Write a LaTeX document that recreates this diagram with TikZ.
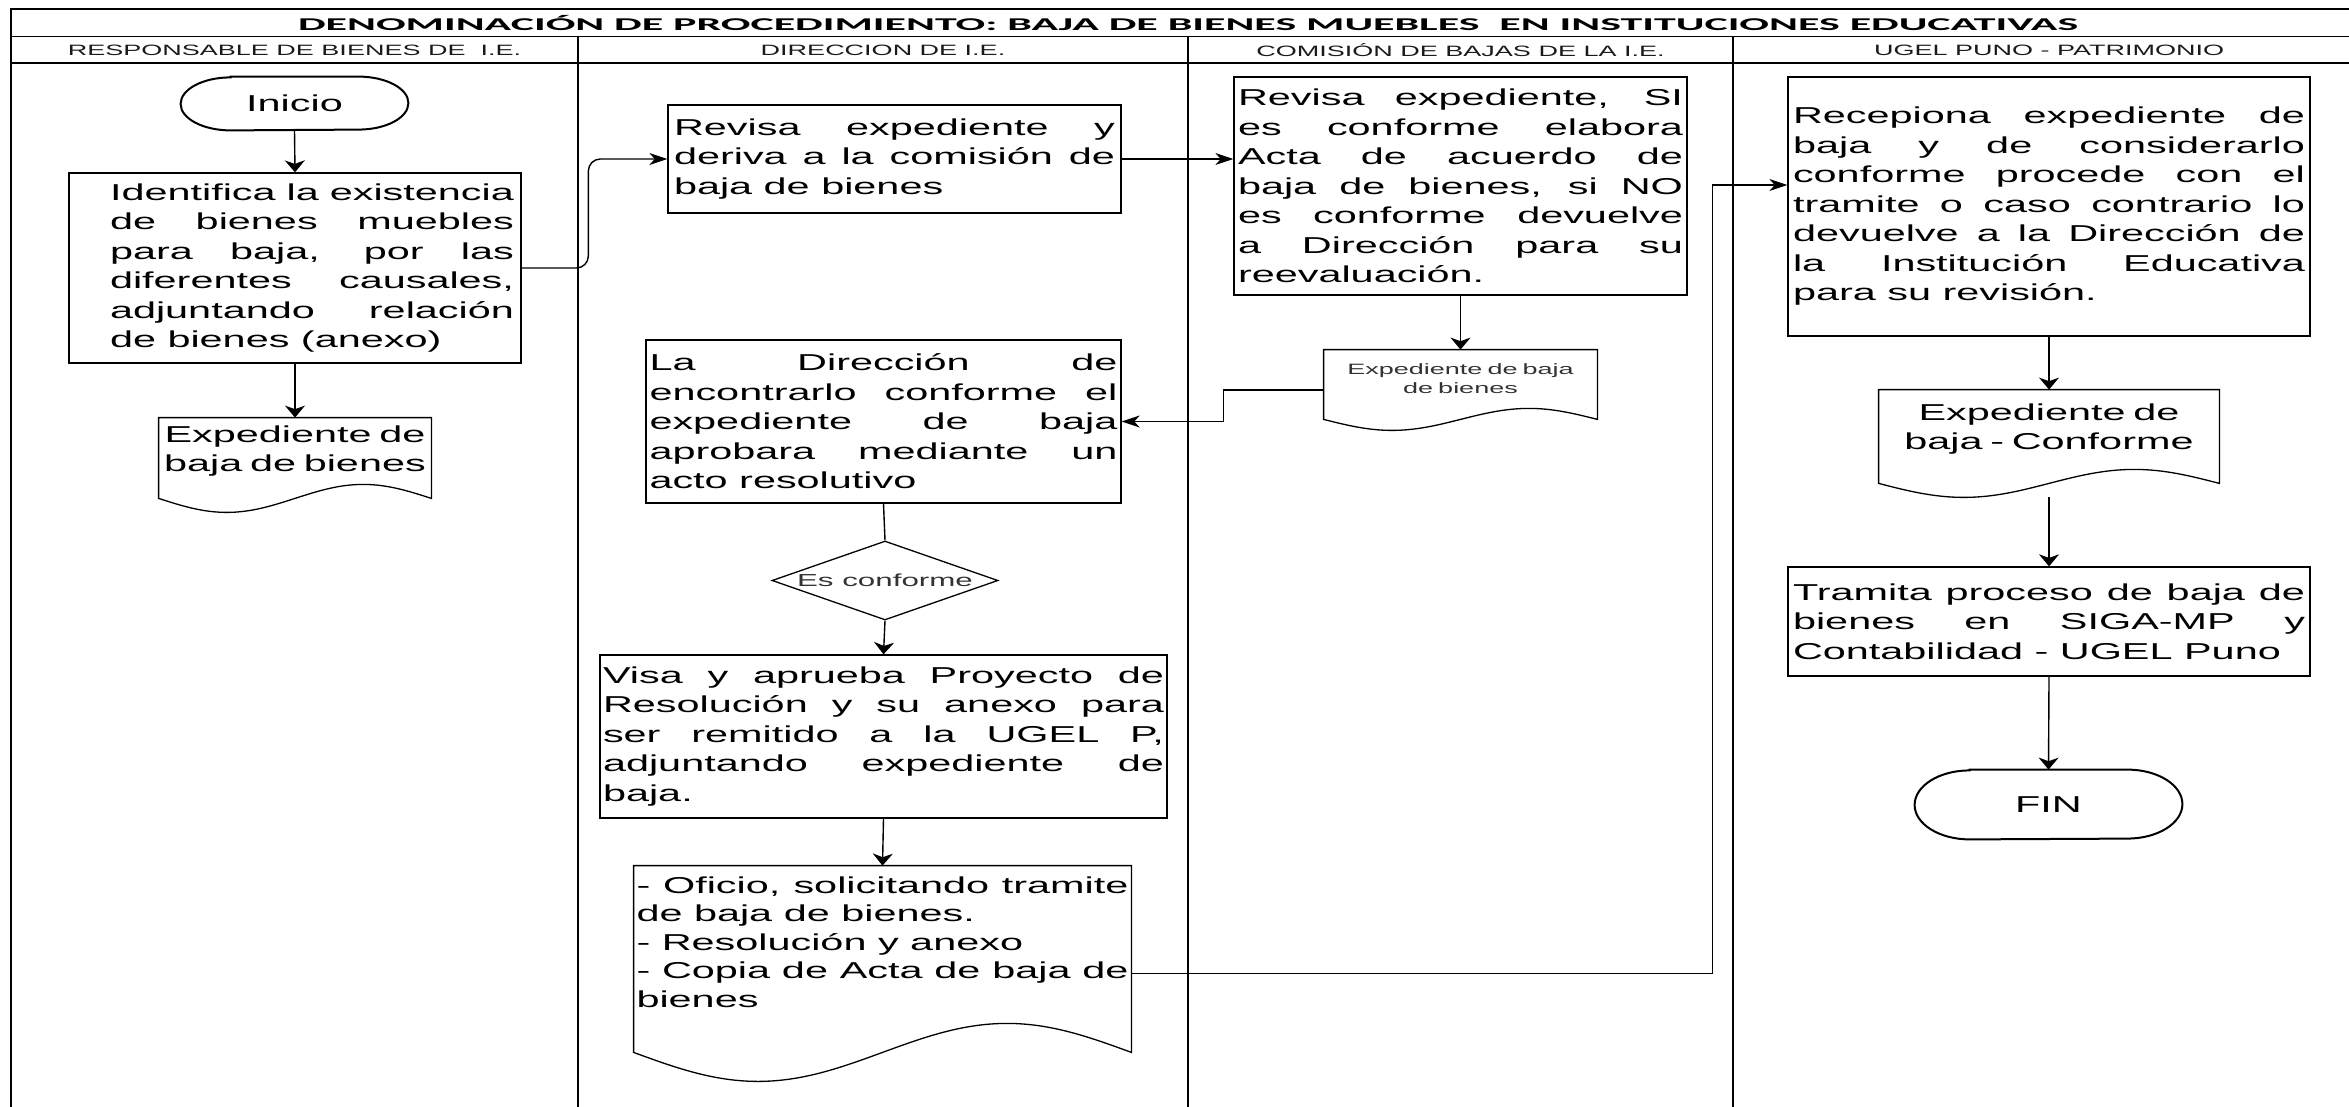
\documentclass[tikz,border=0pt]{standalone}
\usepackage{fontspec}
\setmainfont{Liberation Sans}[FakeStretch=1.8]
\newfontfamily\titlefont{Carlito}
\usepackage{graphicx}
\usetikzlibrary{calc,shapes.geometric,arrows.meta}
\definecolor{inkgray}{HTML}{333333}
\definecolor{headink}{HTML}{1A1A1A}
\def\wavedoc(#1:#2){\draw[line width=0.65pt] (#1.north west) -- (#1.north east) -- ($(#1.south east)+(0,-#2)$) sin ($(#1.south west)!0.75!(#1.south east)+(0,-2*#2)$) cos ($(#1.south west)!0.5!(#1.south east)+(0,-#2)$) sin ($(#1.south west)!0.25!(#1.south east)$) cos ($(#1.south west)+(0,-#2)$) -- cycle;}
\def\stadium(#1:#2:#3){\draw[line width=1pt] ($(#1.north west)+(#2,0)$) -- ($(#1.north east)+(-#2,0)$) arc[start angle=90,end angle=-90,x radius={#2*0.5pt},y radius={#3*0.5pt}] -- ($(#1.south west)+(#2,0)$) arc[start angle=270,end angle=90,x radius={#2*0.5pt},y radius={#3*0.5pt}] -- cycle;}

\begin{document}
\begin{tikzpicture}[x=0.5pt,y=-0.5pt,
	box/.style={draw, line width=0.65pt, inner ysep=0pt, align=justify, font=\fontsize{11.5}{14.75}\selectfont},
	doc/.style={inner sep=0pt, align=center, font=\fontsize{11.5}{14.2}\selectfont},
	docpad/.style={execute at end node={\endgraf\vskip#1\relax\nointerlineskip\null}},
	terminal/.style={inner sep=0pt, font=\fontsize{11.5}{14}\selectfont},
	decision/.style={diamond, draw, line width=0.65pt, shape aspect=2.86, inner sep=0pt, minimum width=113pt, minimum height=39.5pt, text=inkgray, font=\fontsize{8.7}{10}\selectfont},
	lanehead/.style={text=headink, font=\fontsize{7.5}{9}\selectfont},
	frame/.style={line width=0.8pt},
	link/.style={line width=0.7pt},
	darrow/.style={link, -{Stealth[length=6pt,width=10pt,inset=1.8pt]}},
	rarrow/.style={link, -{Stealth[length=9pt,width=6pt,inset=2.7pt]}}]
			%%%%% START %%%%%
			
			\fill[white] (0,0) rectangle (2349,1107);
			\useasboundingbox (0,0) rectangle (2349,1107);
			
			\draw[frame] (2349,9.3) -- (11,9.3) -- (11,1107);
			\draw[frame] (11,36.7) -- (2349,36.7);
			\draw[frame] (11,63.3) -- (2349,63.3);
			\foreach \lx in {578,1188,1733}
				\draw[frame] (\lx,36.7) -- (\lx,1107);
			
			\node[font=\titlefont\bfseries\fontsize{9}{11}\selectfont] (titulo) at (1188,23) {\resizebox{890pt}{\height}{DENOMINACIÓN DE PROCEDIMIENTO: BAJA DE BIENES MUEBLES\ \ EN INSTITUCIONES EDUCATIVAS}};
			\node[lanehead] (hresp) at (294.5,50) {RESPONSABLE DE BIENES DE\ \ I.E.};
			\node[lanehead] (hdir) at (883,50) {DIRECCION DE I.E.};
			\node[lanehead] (hcom) at (1460.5,50) {COMISIÓN DE BAJAS DE LA I.E.};
			\node[lanehead] (hugel) at (2049,50) {UGEL PUNO - PATRIMONIO};
			
			% responsable
			\node[terminal, minimum width=113.5pt, minimum height=26.5pt] (inicio) at (294.5,103.5) {Inicio};
			\stadium(inicio:50:26.5)
			\node[box, minimum width=226pt, minimum height=95pt, text width=219pt, inner xsep=3.5pt] (identifica) at (295,268) {\leftskip=17pt Identifica la existencia\linebreak de bienes muebles\linebreak para baja, por las\linebreak diferentes causales,\linebreak adjuntando relación\linebreak de bienes (anexo)\par};
			\node[doc, minimum width=136pt, minimum height=47pt, text width=136pt, docpad=14pt] (expresp) at (295,465) {Expediente de\\baja de bienes};
			\wavedoc(expresp:14)
			
			% direccion
			\node[box, minimum width=226.5pt, minimum height=54pt, text width=220.5pt, inner xsep=3pt] (revisa) at (894.5,159) {Revisa expediente y\linebreak deriva a la comisión de\linebreak baja de bienes};
			\node[box, minimum width=237.5pt, minimum height=81.5pt, text width=234pt, inner xsep=1.75pt] (direccion) at (883.5,421.5) {La Dirección de\linebreak encontrarlo conforme el\linebreak expediente de baja\linebreak aprobara mediante un\linebreak acto resolutivo};
			\node[decision] (conforme) at (885,580.5) {Es conforme};
			\node[box, minimum width=283.5pt, minimum height=81.5pt, text width=280.5pt, inner xsep=1.5pt] (visa) at (883.5,736.5) {Visa y aprueba Proyecto de\linebreak Resolución y su anexo para\linebreak ser remitido a la UGEL P,\linebreak adjuntando expediente de\linebreak baja.};
			\node[doc, align=justify, minimum width=248.5pt, minimum height=107.5pt, text width=246pt, docpad=31.5pt] (oficio) at (882.5,973.5) {- Oficio, solicitando tramite\linebreak de baja de bienes.\par - Resolución y anexo\par - Copia de Acta de baja de\linebreak bienes};
			\wavedoc(oficio:29)
			
			% comision
			\node[box, minimum width=226.5pt, minimum height=109pt, text width=222.5pt, inner xsep=2pt] (comision) at (1460.5,186) {Revisa expediente, SI\linebreak es conforme elabora\linebreak Acta de acuerdo de\linebreak baja de bienes, si NO\linebreak es conforme devuelve\linebreak a Dirección para su\linebreak reevaluación.};
			\node[doc, text=inkgray, font=\fontsize{7.5}{9.5}\selectfont, minimum width=136.5pt, minimum height=40pt, text width=136.5pt, docpad=11.5pt] (expcom) at (1460.5,390) {Expediente de baja\\de bienes};
			\wavedoc(expcom:11)
			
			% ugel
			\node[box, minimum width=261pt, minimum height=129.5pt, text width=256pt, inner xsep=2.5pt] (ugel) at (2049,206.5) {Recepiona expediente de\linebreak baja y de considerarlo\linebreak conforme procede con el\linebreak tramite o caso contrario lo\linebreak devuelve a la Dirección de\linebreak la Institución Educativa\linebreak para su revisión.};
			\node[doc, minimum width=170pt, minimum height=53.5pt, text width=170pt, docpad=14.5pt] (expconf) at (2049,443.5) {Expediente de\\baja - Conforme};
			\wavedoc(expconf:14)
			\node[box, minimum width=261pt, minimum height=54.5pt, text width=256pt, inner xsep=2.5pt] (tramita) at (2049,621.5) {Tramita proceso de baja de\linebreak bienes en SIGA-MP y\linebreak Contabilidad - UGEL Puno};
			\node[terminal, minimum width=133.5pt, minimum height=34.5pt] (fin) at (2048.5,804.5) {FIN};
			\stadium(fin:55:34.5)
			
			% conectores
			\draw[darrow] (inicio.south) -- (identifica.north);
			\draw[darrow] (identifica.south) -- (expresp.north);
			\draw[rarrow, rounded corners=6pt] (identifica.east) -| ($(revisa.west)+(-79,0)$) -- (revisa.west);
			\draw[rarrow] (revisa.east) -- (revisa.east -| comision.west);
			\draw[darrow] (comision.south) -- (expcom.north);
			\draw[rarrow] (expcom.west) -| ($(direccion.east)+(102,0)$) -- (direccion.east);
			\draw[link] (direccion.south) -- (conforme.north);
			\draw[darrow] (conforme.south) -- (visa.north);
			\draw[darrow] (visa.south) -- (oficio.north);
			\draw[rarrow] (oficio.east) -| ($(ugel.west)+(-75,-21.5)$) -- ($(ugel.west)+(0,-21.5)$);
			\draw[darrow] (ugel.south) -- (expconf.north);
			\draw[darrow] (expconf.south) -- (tramita.north);
			\draw[darrow] (tramita.south) -- (fin.north);
			
			%%%%% END %%%%%
\end{tikzpicture}
\end{document}
